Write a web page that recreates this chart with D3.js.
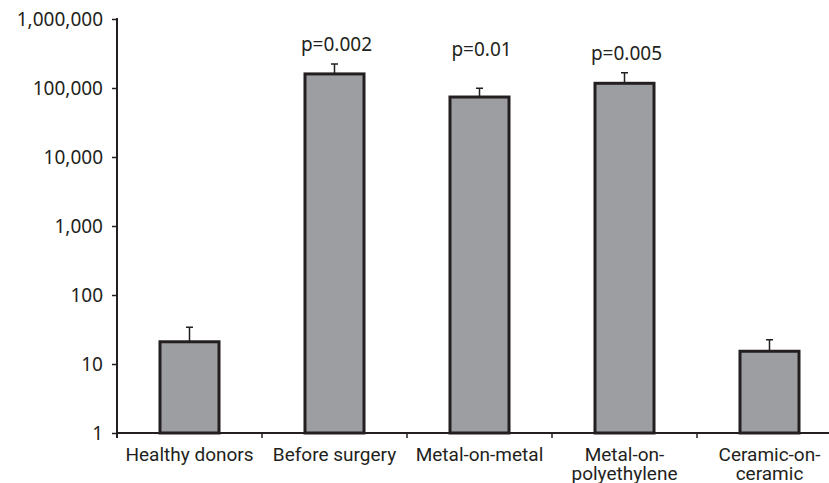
<!DOCTYPE html>
<html>
<head>
<meta charset="utf-8">
<script src="https://cdn.jsdelivr.net/npm/d3@7"></script>
<style>
  html, body { margin: 0; padding: 0; background: #fff; }
  svg { display: block; }
</style>
</head>
<body>
<svg id="chart" width="829" height="483"></svg>
<script>
// ---- data ----
const categories = [["Healthy donors"], ["Before surgery"], ["Metal-on-metal"], ["Metal-on-", "polyethylene"], ["Ceramic-on-", "ceramic"]];
const values = [21, 160000, 74000, 117000, 15.3];
const errorTops = [34, 223000, 99000, 167000, 22.5];
const pLabels = ["", "p=0.002", "p=0.01", "p=0.005", ""];
const yTicks = [1, 10, 100, 1000, 10000, 100000, 1000000];

// ---- layout ----
const svg = d3.select("#chart");
const axisX = 117, axisY = 433, topY = 19;
const pLabelY = [0, 50.5, 55.5, 60, 0];
const ink = "#231f20";
const numFont = "'Noto Sans', 'Open Sans', sans-serif";
const catFont = "Roboto, 'Noto Sans', sans-serif";

const keys = categories.map(c => c.join(" "));
const x = d3.scaleBand().domain(keys).range([axisX, axisX + 145 * 5]).padding(0);
const y = d3.scaleLog().domain([1, 1000000]).range([axisY, topY]);
const barW = x.bandwidth() * 0.407;

// y axis
const yAxis = d3.axisLeft(y).tickValues(yTicks).tickSize(5).tickPadding(9)
  .tickFormat(d3.format(","));
const gy = svg.append("g").attr("transform", `translate(${axisX},0)`).call(yAxis);
gy.select(".domain").remove();
gy.selectAll(".tick line").attr("stroke", ink).attr("stroke-width", 1.5);
gy.selectAll(".tick text").attr("font-family", numFont).attr("font-size", 19).attr("fill", ink);
svg.append("line").attr("x1", axisX).attr("x2", axisX).attr("y1", topY - 1).attr("y2", axisY + 5)
  .attr("stroke", ink).attr("stroke-width", 2);

// bars
const data = keys.map((k, i) => ({ k, v: values[i], e: errorTops[i], p: pLabels[i], py: pLabelY[i], lines: categories[i] }));
const cx = d => x(d.k) + x.bandwidth() / 2;

// error bars
svg.selectAll(".err").data(data).enter().append("path")
  .attr("d", d => `M${cx(d)},${y(d.v)}V${y(d.e)}M${cx(d) - 3.5},${y(d.e)}H${cx(d) + 3.5}`)
  .attr("stroke", ink).attr("stroke-width", 1.5).attr("fill", "none");

svg.selectAll(".bar").data(data).enter().append("rect")
  .attr("x", d => cx(d) - barW / 2)
  .attr("width", barW)
  .attr("y", d => y(d.v))
  .attr("height", d => y(1) - y(d.v))
  .attr("fill", "#9d9ea2")
  .attr("stroke", ink)
  .attr("stroke-width", 3);

// x axis
svg.append("line").attr("x1", axisX).attr("x2", 829).attr("y1", axisY).attr("y2", axisY)
  .attr("stroke", ink).attr("stroke-width", 2);
const bounds = keys.map(k => x(k));
svg.selectAll(".xt").data(bounds).enter().append("line")
  .attr("x1", d => d).attr("x2", d => d).attr("y1", axisY).attr("y2", axisY + 5)
  .attr("stroke", ink).attr("stroke-width", 1.5);

// category labels
const labels = svg.selectAll(".cat").data(data).enter().append("text")
  .attr("text-anchor", "middle")
  .attr("font-family", catFont).attr("font-size", 19)
  .attr("fill", ink);
labels.selectAll("tspan").data(d => d.lines.map(l => ({ l, c: cx(d) }))).enter().append("tspan")
  .attr("x", t => t.c).attr("y", (t, i) => 461 + i * 19).text(t => t.l);

// p labels
svg.selectAll(".pl").data(data.filter(d => d.p)).enter().append("text")
  .attr("x", d => cx(d) + 2).attr("y", d => d.py)
  .attr("text-anchor", "middle")
  .attr("font-family", numFont).attr("font-size", 19).attr("fill", ink)
  .text(d => d.p);
</script>
</body>
</html>
